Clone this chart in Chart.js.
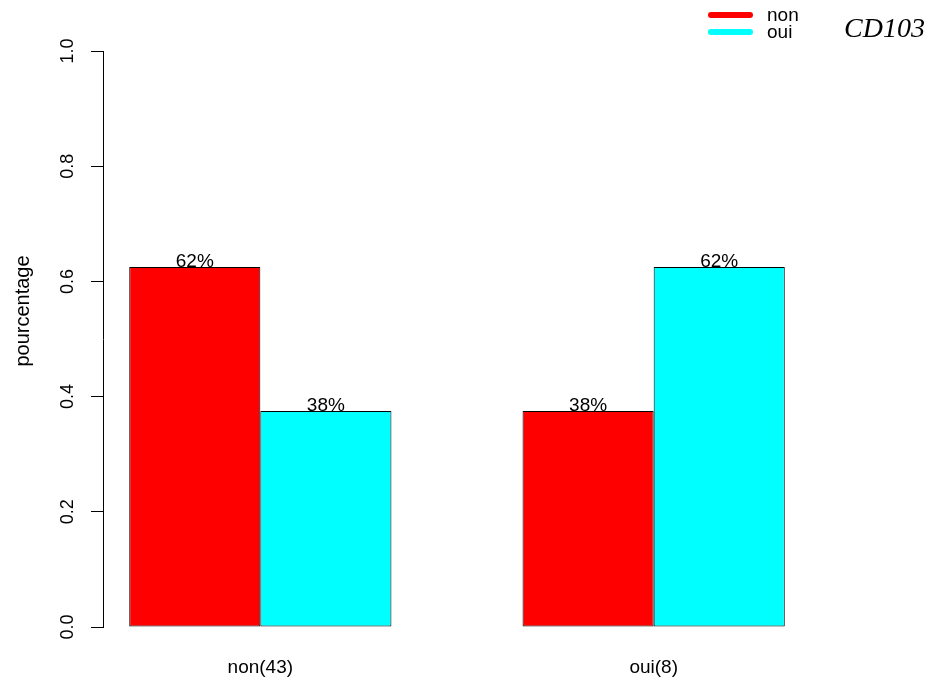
<!DOCTYPE html>
<html>
<head>
<meta charset="utf-8">
<script src="https://cdn.jsdelivr.net/npm/chart.js@4.4.1/dist/chart.umd.min.js"></script>
<style>
  html, body { margin: 0; padding: 0; background: #fff; }
  #wrap { width: 933px; height: 680px; position: relative; }
</style>
</head>
<body>
<div id="wrap"><canvas id="chart"></canvas></div>
<script>
/* ─── Datos ─────────────────────────────────────── */
const categories = ['non(43)', 'oui(8)'];
const seriesNames = ['non', 'oui'];
const nonValues = [0.625, 0.375];
const ouiValues = [0.375, 0.625];
const nonLabels = ['62%', '38%'];
const ouiLabels = ['38%', '62%'];
const yTicks = [0, 0.2, 0.4, 0.6, 0.8, 1.0];
const yTickLabels = ['0.0', '0.2', '0.4', '0.6', '0.8', '1.0'];
const chartTitle = 'CD103';
const yTitle = 'pourcentage';

const COLORS = { red: '#FF0000', cyan: '#00FFFF' };
const SANS = "'Liberation Sans', Arial, sans-serif";
const SERIF = "'Liberation Serif', 'Times New Roman', serif";

const toPoints = vals => vals.map((v, i) => ({ x: i, y: v }));

/* ─── Textos extra (ticks rotados, leyenda, título) ─ */
const extras = {
  id: 'extras',
  afterDraw(chart) {
    const ctx = chart.ctx;
    const y = chart.scales.y;
    ctx.save();
    ctx.fillStyle = '#000';

    // etiquetas del eje Y, giradas
    ctx.font = '18px ' + SANS;
    ctx.textAlign = 'center';
    ctx.textBaseline = 'middle';
    yTicks.forEach((t, i) => {
      ctx.save();
      ctx.translate(68, y.getPixelForValue(t));
      ctx.rotate(-Math.PI / 2);
      ctx.fillText(yTickLabels[i], 0, 0);
      ctx.restore();
    });

    // título eje Y
    ctx.save();
    ctx.font = '20px ' + SANS;
    ctx.translate(23, 311);
    ctx.rotate(-Math.PI / 2);
    ctx.fillText(yTitle, 0, 0);
    ctx.restore();

    // porcentajes sobre las barras
    const pct = [nonLabels, ouiLabels];
    ctx.font = '19px ' + SANS;
    ctx.textBaseline = 'alphabetic';
    chart.data.datasets.forEach((ds, di) => {
      chart.getDatasetMeta(di).data.forEach((bar, i) => {
        ctx.fillText(pct[di][i], bar.x, bar.y);
      });
    });

    // leyenda
    ctx.font = '19px ' + SANS;
    ctx.textAlign = 'left';
    ctx.textBaseline = 'middle';
    ctx.lineCap = 'round';
    ctx.lineWidth = 6;
    chart.data.datasets.forEach((ds, di) => {
      const ly = 15 + di * 17;
      ctx.strokeStyle = ds.backgroundColor;
      ctx.beginPath();
      ctx.moveTo(711, ly);
      ctx.lineTo(750, ly);
      ctx.stroke();
      ctx.fillText(ds.label, 767, ly + 1);
    });

    // título
    ctx.font = 'italic 28px ' + SERIF;
    ctx.textAlign = 'right';
    ctx.textBaseline = 'alphabetic';
    ctx.fillText(chartTitle, 925, 37);

    ctx.restore();
  },
};

/* ─── Gráfica ───────────────────────────────────── */
new Chart(document.getElementById('chart'), {
  type: 'bar',
  data: {
    datasets: [
      {
        label: seriesNames[0],
        data: toPoints(nonValues),
        backgroundColor: COLORS.red,
        borderColor: '#000',
        borderWidth: 1,
        borderSkipped: false,
      },
      {
        label: seriesNames[1],
        data: toPoints(ouiValues),
        backgroundColor: COLORS.cyan,
        borderColor: '#000',
        borderWidth: 1,
        borderSkipped: false,
      },
    ],
  },
  options: {
    responsive: true,
    maintainAspectRatio: false,
    animation: false,
    events: [],
    layout: { padding: { top: 51, right: 122, bottom: 1, left: 91 } },
    datasets: { bar: { categoryPercentage: 2 / 3, barPercentage: 1 } },
    plugins: {
      legend: { display: false },
      title: { display: false },
      tooltip: { enabled: false },
    },
    scales: {
      x: {
        type: 'linear',
        offset: false,
        min: -0.4,
        max: 1.4,
        grid: { display: false, drawTicks: false },
        border: { display: false },
        afterBuildTicks: s => { s.ticks = categories.map((c, i) => ({ value: i })); },
        afterFit: s => { s.height = 52; },
        ticks: {
          callback: v => categories[v],
          color: '#000',
          padding: 29,
          font: { size: 19, family: SANS },
          maxRotation: 0,
        },
      },
      y: {
        min: 0,
        max: 1,
        afterBuildTicks: s => { s.ticks = yTicks.map(v => ({ value: v })); },
        grid: { drawOnChartArea: false, tickLength: 12, color: '#000' },
        border: { color: '#000' },
        ticks: { display: false },
      },
    },
  },
  plugins: [extras],
});
</script>
</body>
</html>
